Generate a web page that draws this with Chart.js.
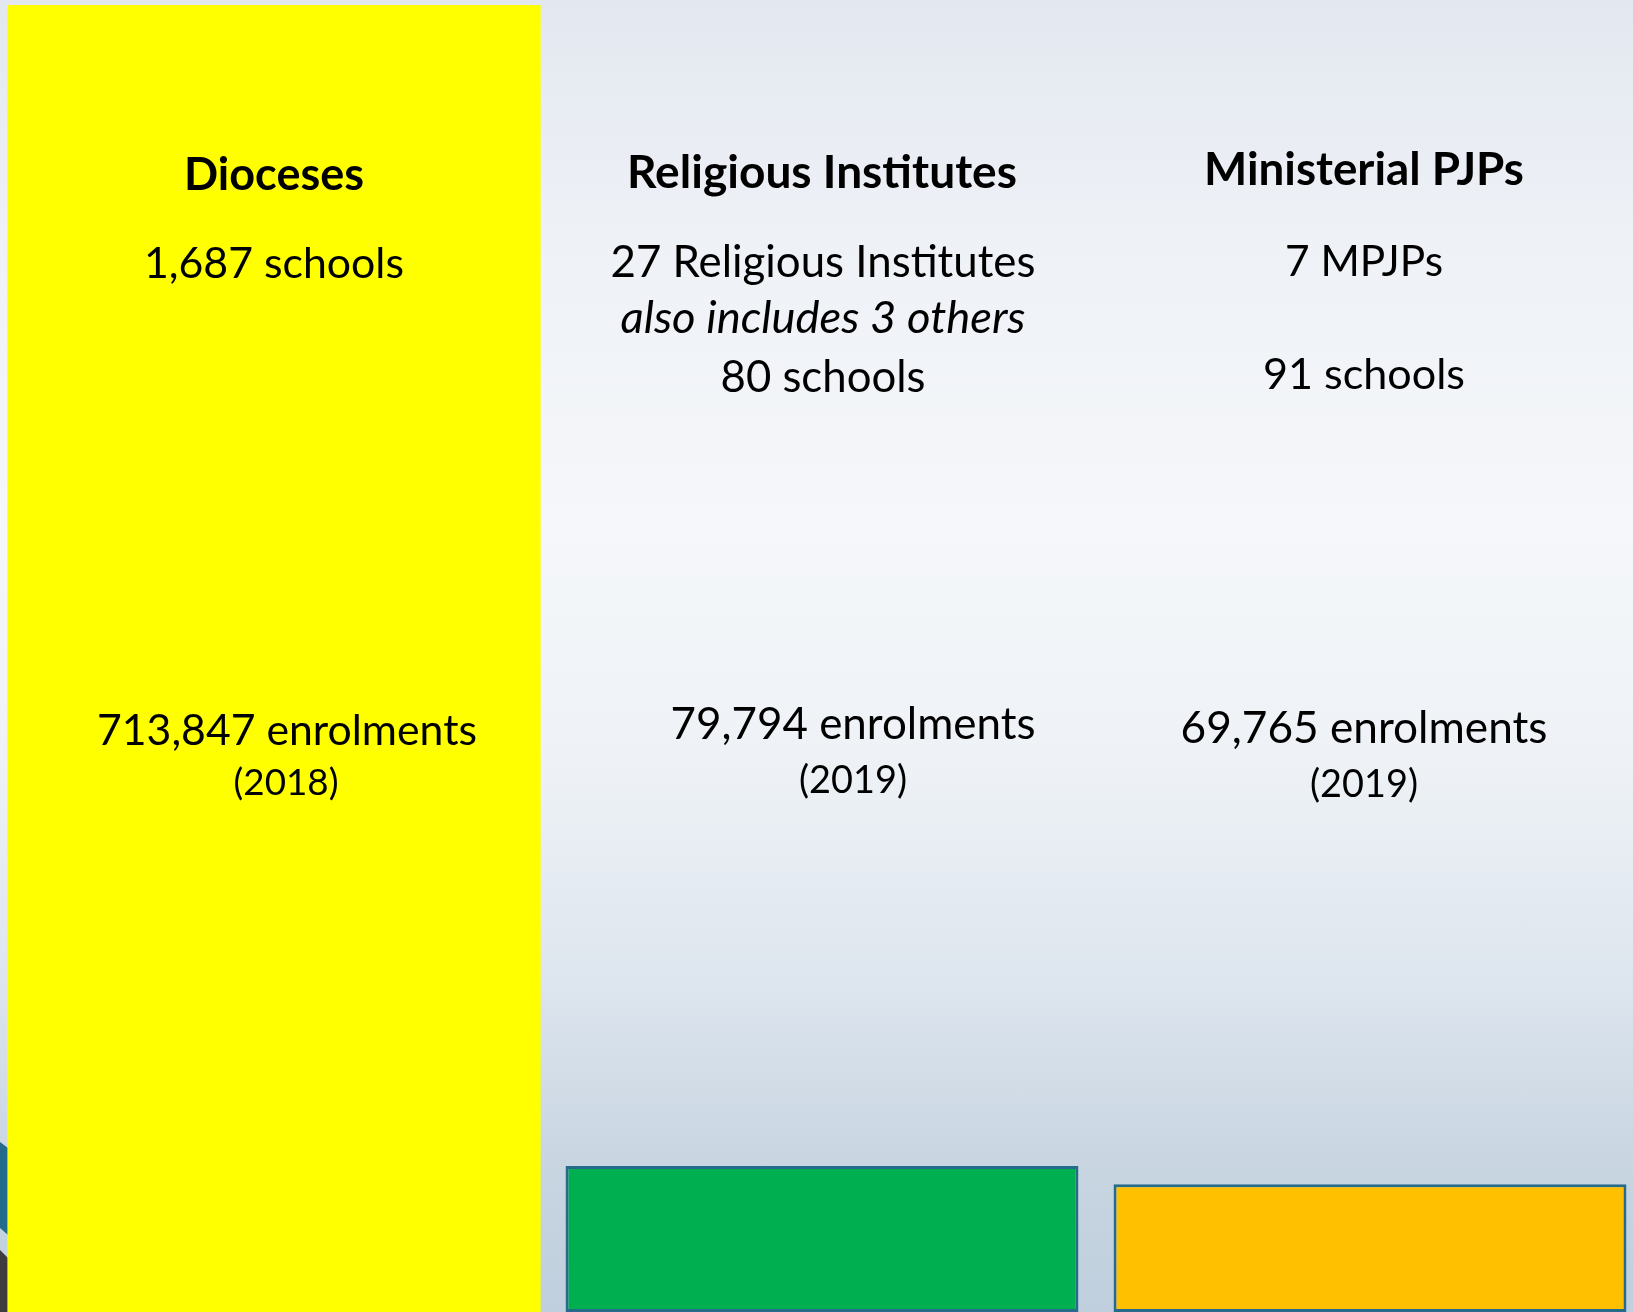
<!DOCTYPE html>
<html>
<head>
<meta charset="utf-8">
<title>Catholic school sponsors</title>
<script src="https://cdn.jsdelivr.net/npm/chart.js@4.4.1/dist/chart.umd.min.js"></script>
<style>
  html, body {
    margin: 0;
    padding: 0;
    overflow: hidden;
    width: 1633px;
    height: 1312px;
  }
  body {
    background: linear-gradient(180deg, #e3e8f0 0%, #eef1f6 18%, #f5f7fa 40%, #eef2f6 58%, #dde5ee 75%, #c9d6e2 88%, #bfcfdd 100%);
  }
  .chart-wrapper {
    position: relative;
    width: 1644px;
    height: 1312px;
  }
</style>
</head>
<body>
<div class="chart-wrapper">
  <canvas id="sponsorChart"></canvas>
</div>
<script>
const categories = ["Dioceses", "Religious Institutes", "Ministerial PJPs"];
const sponsorLines = ["", "27 Religious Institutes", "7 MPJPs"];
const noteLines = ["", "also includes 3 others", ""];
const schools = [1687, 80, 91];
const enrolments = [713847, 79794, 69765];
const years = [2018, 2019, 2019];
const barColors = ["#ffff00", "#00b050", "#ffc000"];

const FONT = "Lato, 'Open Sans', sans-serif";

// posicion del texto: desplazamiento desde el centro de la categoria, linea base y ancho
const textLayout = [
  {
    title: { dx: 0, y: 190, w: 180 },
    sponsor: null,
    note: null,
    schools: { dx: 0, y: 278, w: 260 },
    enrol: { dx: 13, y: 745, w: 380 },
    year: { dx: 12, y: 795, w: 105 },
  },
  {
    title: { dx: 0, y: 188, w: 390 },
    sponsor: { dx: 1, y: 277, w: 425 },
    note: { dx: 1, y: 333, w: 405 },
    schools: { dx: 1, y: 392, w: 205 },
    enrol: { dx: 31, y: 739, w: 365 },
    year: { dx: 31, y: 793, w: 108 },
  },
  {
    title: { dx: -6, y: 185, w: 320 },
    sponsor: { dx: -6, y: 276, w: 158 },
    note: null,
    schools: { dx: -6, y: 389, w: 202 },
    enrol: { dx: -6, y: 743, w: 367 },
    year: { dx: -6, y: 797, w: 108 },
  },
];

/**
 * Dibuja un texto centrado ajustando el tamaño al ancho indicado
 */
function drawFitted(ctx, text, x, y, width, style) {
  ctx.font = style + " 40px " + FONT;
  const measured = ctx.measureText(text).width;
  const size = (40 * width) / measured;
  ctx.font = style + " " + size.toFixed(2) + "px " + FONT;
  ctx.fillText(text, x, y);
}

const labelPlugin = {
  id: "slideLabels",
  beforeDraw(chart) {
    // adorno de la esquina inferior izquierda
    const ctx = chart.ctx;
    ctx.save();
    ctx.fillStyle = "#256c8c";
    ctx.beginPath();
    ctx.moveTo(0, 1142);
    ctx.lineTo(8, 1148);
    ctx.lineTo(8, 1235);
    ctx.lineTo(0, 1228);
    ctx.closePath();
    ctx.fill();
    ctx.fillStyle = "#3d3d3d";
    ctx.beginPath();
    ctx.moveTo(0, 1250);
    ctx.lineTo(8, 1258);
    ctx.lineTo(8, 1312);
    ctx.lineTo(0, 1312);
    ctx.closePath();
    ctx.fill();
    ctx.restore();
  },
  afterDatasetsDraw(chart) {
    const ctx = chart.ctx;
    const xScale = chart.scales.x;
    ctx.save();
    ctx.fillStyle = "#000000";
    ctx.textAlign = "center";
    ctx.textBaseline = "alphabetic";
    categories.forEach((cat, i) => {
      const cx = xScale.getPixelForValue(i);
      const lay = textLayout[i];
      drawFitted(ctx, cat, cx + lay.title.dx, lay.title.y, lay.title.w, "bold");
      if (lay.sponsor) {
        drawFitted(ctx, sponsorLines[i], cx + lay.sponsor.dx, lay.sponsor.y, lay.sponsor.w, "normal");
      }
      if (lay.note) {
        drawFitted(ctx, noteLines[i], cx + lay.note.dx, lay.note.y, lay.note.w, "italic");
      }
      drawFitted(ctx, schools[i].toLocaleString("en-US") + " schools", cx + lay.schools.dx, lay.schools.y, lay.schools.w, "normal");
      drawFitted(ctx, enrolments[i].toLocaleString("en-US") + " enrolments", cx + lay.enrol.dx, lay.enrol.y, lay.enrol.w, "normal");
      drawFitted(ctx, "(" + years[i] + ")", cx + lay.year.dx, lay.year.y, lay.year.w, "normal");
    });
    ctx.restore();
  },
};

function crearGraficoPatrocinadores() {
  const ctx = document.getElementById("sponsorChart").getContext("2d");

  return new Chart(ctx, {
    type: "bar",
    data: {
      labels: categories,
      datasets: [
        {
          label: "Dioceses",
          data: enrolments.map((v, i) => (i === 0 ? v : null)),
          backgroundColor: barColors[0],
          borderWidth: 0,
          barPercentage: 0.973,
          categoryPercentage: 1,
          grouped: false,
        },
        {
          label: "Others",
          data: enrolments.map((v, i) => (i === 0 ? null : v)),
          backgroundColor: barColors,
          borderColor: "#266b8b",
          borderWidth: 3,
          borderSkipped: false,
          barPercentage: 0.936,
          categoryPercentage: 1,
          grouped: false,
        },
      ],
    },
    options: {
      responsive: true,
      maintainAspectRatio: false,
      animation: false,
      layout: {
        padding: 0,
      },
      plugins: {
        legend: { display: false },
        tooltip: { enabled: false },
      },
      scales: {
        x: {
          display: false,
        },
        y: {
          display: false,
          min: 0,
          max: 716578,
        },
      },
    },
    plugins: [labelPlugin],
  });
}

document.addEventListener("DOMContentLoaded", function () {
  try {
    crearGraficoPatrocinadores();
  } catch (error) {
    console.error("Error creando gráfico:", error);
  }
});
</script>
</body>
</html>
